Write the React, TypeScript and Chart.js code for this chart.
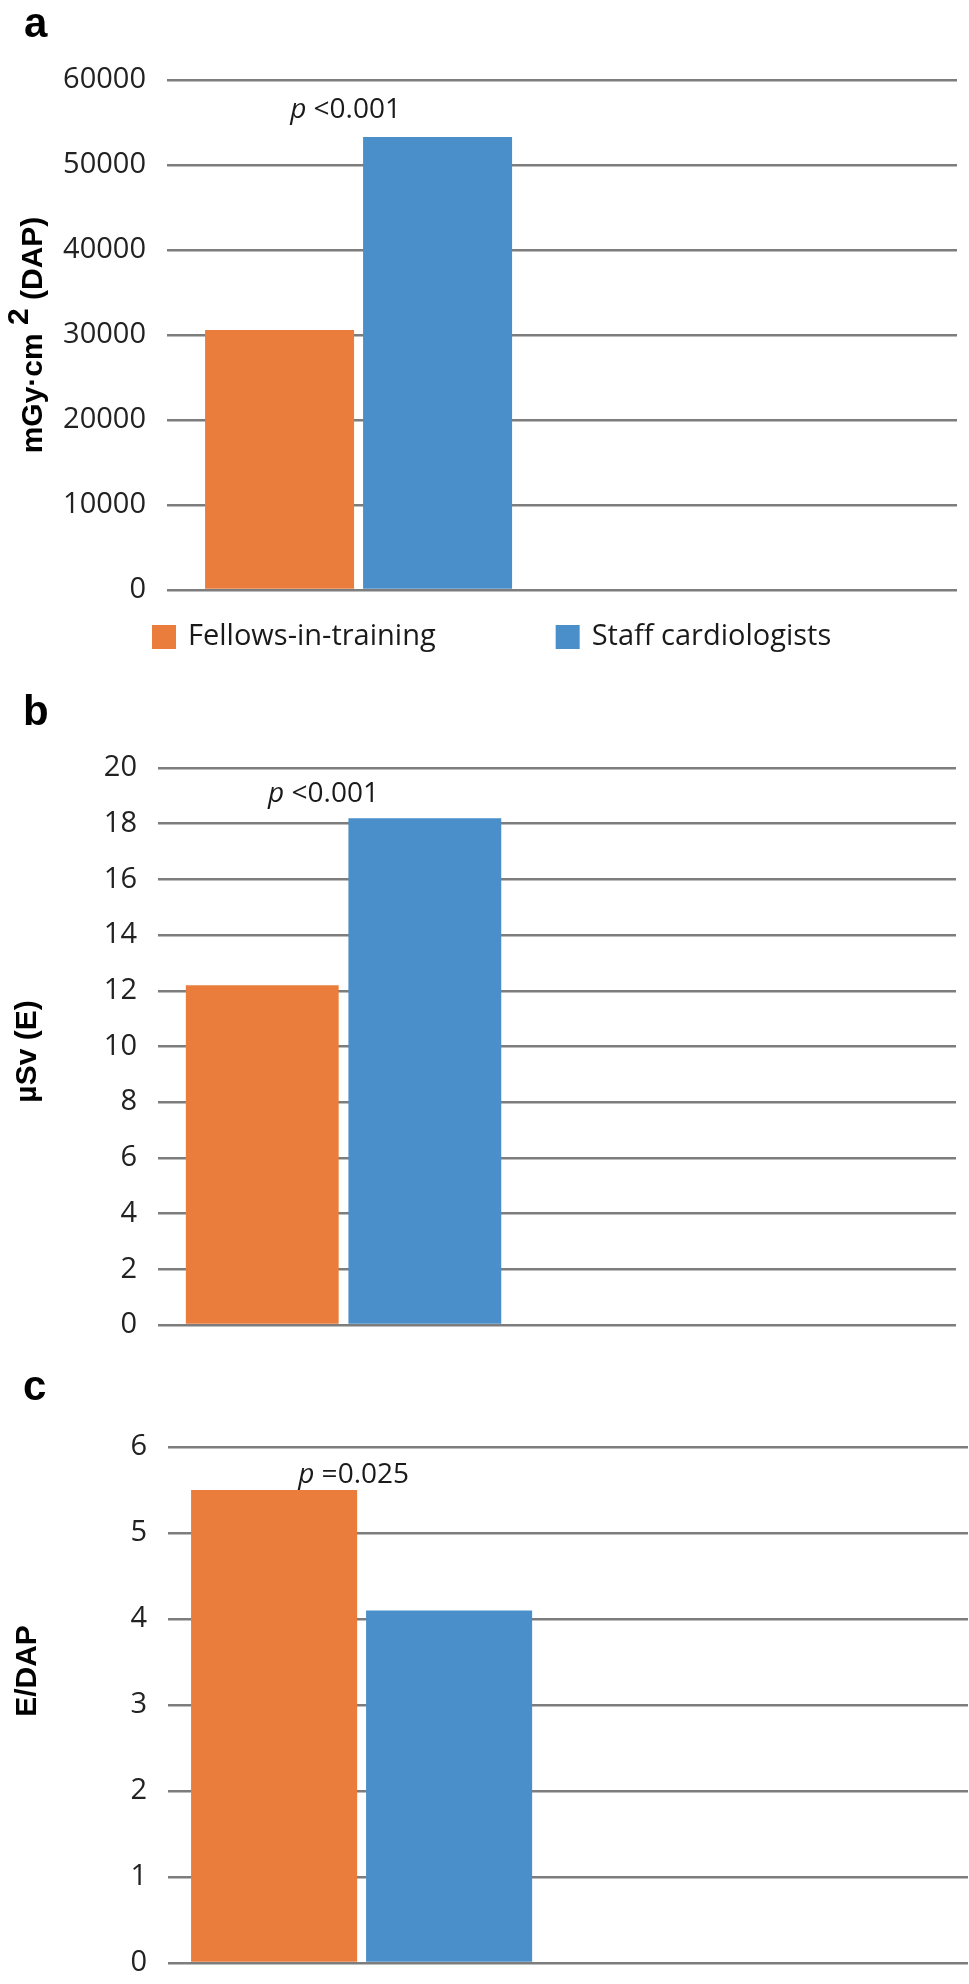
import React, { useEffect, useRef } from 'react';
import { Chart, registerables } from 'chart.js';

Chart.register(...registerables);

// ---------- data ----------
const categories = ['', '']; // one group of bars; second slot left empty as in the original
const seriesNames = ['Fellows-in-training', 'Staff cardiologists'];
const seriesColors = ['#EA7D3B', '#4A8FCA'];

const dapValues = [30600, 53300];
const doseValues = [12.2, 18.2];
const ratioValues = [5.5, 4.1];

const dapTicks = [0, 10000, 20000, 30000, 40000, 50000, 60000];
const doseTicks = [0, 2, 4, 6, 8, 10, 12, 14, 16, 18, 20];
const ratioTicks = [0, 1, 2, 3, 4, 5, 6];

const panelLetters = ['a', 'b', 'c'];
const pTexts = ['<0.001', '<0.001', '=0.025'];
const axisTitles = [['mGy·cm ', '2', ' (DAP)'], ['µSv (E)'], ['E/DAP']];

// ---------- layout / style ----------
const W = 969;
const TICK_FONT = '"Open Sans", sans-serif';

type PanelCfg = {
  index: number;
  values: number[];
  ticks: number[];
  top: number;
  height: number;
  area: { left: number; right: number; top: number; bottom: number };
  cat: number;
  bar: number;
  xShift: number;
  letterX: number;
  letterY: number;
  titleX: number;
  titleDy: number;
  pDx: number;
  pDy: number;
  legend: boolean;
};

const panels: PanelCfg[] = [
  {
    index: 0, values: dapValues, ticks: dapTicks, top: 0, height: 690,
    area: { left: 167, right: 957, top: 80, bottom: 590 },
    cat: 0.8, bar: 0.943, xShift: 0.015, letterX: 24, letterY: 37, titleX: 42, titleDy: 0,
    pDx: -13, pDy: -27, legend: true,
  },
  {
    index: 1, values: doseValues, ticks: doseTicks, top: 690, height: 680,
    area: { left: 158, right: 956, top: 78, bottom: 635 },
    cat: 0.815, bar: 0.94, xShift: 0.035, letterX: 23, letterY: 35, titleX: 36, titleDy: 5,
    pDx: -20, pDy: -24, legend: false,
  },
  {
    index: 2, values: ratioValues, ticks: ratioTicks, top: 1370, height: 614,
    area: { left: 168, right: 968, top: 77, bottom: 593 },
    cat: 0.875, bar: 0.949, xShift: 0.016, letterX: 23, letterY: 30, titleX: 36, titleDy: -34,
    pDx: -8, pDy: -15, legend: false,
  },
];

function makeOverlay(p: PanelCfg) {
  return {
    id: 'overlay' + p.index,
    afterDraw(chart: any) {
      const ctx: CanvasRenderingContext2D = chart.ctx;
      const area = chart.chartArea;
      ctx.save();
      // panel letter
      ctx.fillStyle = '#000';
      ctx.textAlign = 'left';
      ctx.textBaseline = 'alphabetic';
      ctx.font = 'bold 42px "Liberation Sans", Arial, sans-serif';
      ctx.fillText(panelLetters[p.index], p.letterX, p.letterY);

      // y-axis title (rotated)
      ctx.font = 'bold 30px "Liberation Sans", Arial, sans-serif';
      const segs = axisTitles[p.index];
      const widths = segs.map((s) => ctx.measureText(s).width);
      const total = widths.reduce((a, b) => a + b, 0);
      ctx.save();
      ctx.translate(p.titleX, (area.top + area.bottom) / 2 + p.titleDy);
      ctx.rotate(-Math.PI / 2);
      let x = -total / 2;
      segs.forEach((s, i) => {
        const sup = segs.length === 3 && i === 1;
        ctx.fillText(s, x, sup ? -14 : 0);
        x += widths[i];
      });
      ctx.restore();

      // p-value label
      const b0 = chart.getDatasetMeta(0).data[0];
      const b1 = chart.getDatasetMeta(1).data[0];
      const cx = (b0.x + b1.x) / 2 + p.pDx;
      const cy = Math.min(b0.y, b1.y) + p.pDy;
      ctx.fillStyle = '#1a1a1a';
      ctx.textBaseline = 'middle';
      const italic = 'italic 28px ' + TICK_FONT;
      const normal = '28px ' + TICK_FONT;
      ctx.font = italic;
      const wp = ctx.measureText('p').width;
      ctx.font = normal;
      const rest = ' ' + pTexts[p.index];
      const wr = ctx.measureText(rest).width;
      const sx = cx - (wp + wr) / 2;
      ctx.font = italic;
      ctx.fillText('p', sx, cy);
      ctx.font = normal;
      ctx.fillText(rest, sx + wp, cy);

      // legend
      if (p.legend) {
        const ly = area.bottom + 47;
        let lx = 152;
        const box = 24;
        ctx.font = '29px ' + TICK_FONT;
        seriesNames.forEach((name, i) => {
          ctx.fillStyle = seriesColors[i];
          ctx.fillRect(lx, ly - box / 2, box, box);
          ctx.fillStyle = '#1a1a1a';
          ctx.fillText(name, lx + box + 12, ly);
          lx += box + 12 + ctx.measureText(name).width + 120;
        });
      }
      ctx.restore();
    },
  };
}

function Panel({ cfg }: { cfg: PanelCfg }) {
  const ref = useRef<HTMLCanvasElement | null>(null);
  useEffect(() => {
    if (!ref.current) return;
    const chart = new Chart(ref.current, {
      type: 'bar',
      data: {
        labels: categories,
        datasets: seriesNames.map((name, i) => ({
          label: name,
          data: categories.map((_, j) => (j === 0 ? cfg.values[i] : null)),
          backgroundColor: seriesColors[i],
          borderWidth: 0,
          categoryPercentage: cfg.cat,
          barPercentage: cfg.bar,
        })),
      },
      options: {
        animation: false,
        responsive: false,
        devicePixelRatio: 1,
        layout: {
          padding: {
            left: 0,
            right: W - cfg.area.right,
            top: cfg.area.top,
            bottom: cfg.height - cfg.area.bottom,
          },
        },
        plugins: { legend: { display: false }, tooltip: { enabled: false } },
        scales: {
          x: {
            display: false,
            grid: { display: false },
            afterDataLimits: (s: any) => {
              s.min = cfg.xShift;
            },
          },
          y: {
            min: 0,
            max: cfg.ticks[cfg.ticks.length - 1],
            afterBuildTicks: (s: any) => {
              s.ticks = cfg.ticks.map((v) => ({ value: v }));
            },
            afterFit: (s: any) => {
              s.width = cfg.area.left;
              s.paddingTop = 0;
              s.paddingBottom = 0;
            },
            border: { display: false },
            grid: { color: '#7d7d7d', lineWidth: 2.5, drawTicks: false },
            ticks: {
              padding: 21,
              color: '#222',
              font: { family: TICK_FONT, size: 29 },
              callback: (v: any) => String(v),
            },
          },
        },
      } as any,
      plugins: [makeOverlay(cfg)],
    });
    return () => chart.destroy();
  }, [cfg]);
  return (
    <div style={{ position: 'absolute', left: 0, top: cfg.top, width: W, height: cfg.height }}>
      <canvas
        ref={ref}
        width={W}
        height={cfg.height}
        style={{ width: W, height: cfg.height, display: 'block' }}
      />
    </div>
  );
}

export default function App() {
  return (
    <div style={{ position: 'absolute', left: 0, top: 0, width: W, height: 1984, background: '#fff' }}>
      {panels.map((p) => (
        <Panel key={p.index} cfg={p} />
      ))}
    </div>
  );
}
